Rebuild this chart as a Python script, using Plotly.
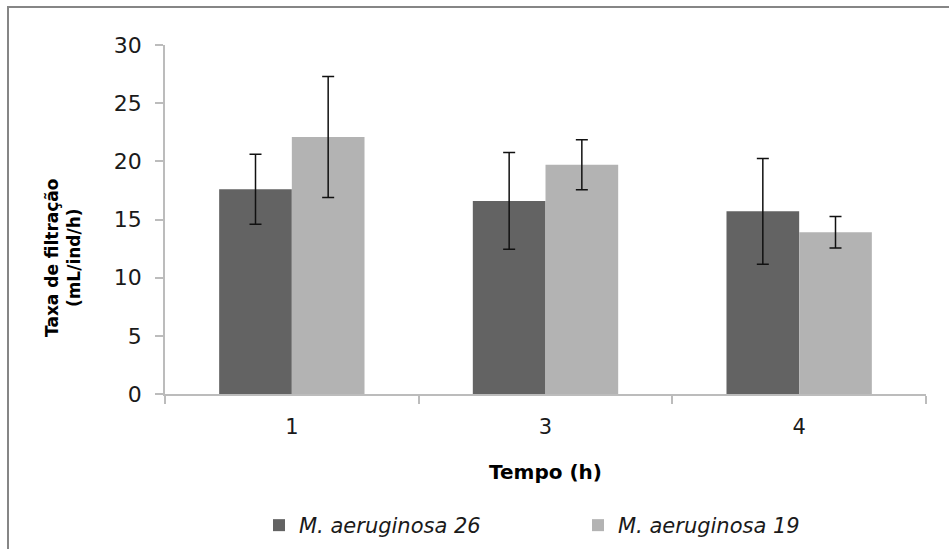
import plotly.graph_objects as go

# Filtration rate by time, two Microcystis strains
tempo = ["1", "3", "4"]
serie_26 = [17.6, 16.6, 15.7]
erro_26 = [3.0, 4.15, 4.55]
serie_19 = [22.1, 19.7, 13.9]
erro_19 = [5.2, 2.15, 1.35]
y_ticks = [0, 5, 10, 15, 20, 25, 30]

W, H = 949, 549
L, R, T, B = 165, 23, 45, 155
FONT = "DejaVu Sans"
AXIS_COLOR = "#bcbcbc"

fig = go.Figure()
fig.add_trace(go.Bar(
    x=tempo, y=serie_26, name="<i>M. aeruginosa 26</i>",
    marker=dict(color="#636363", line=dict(width=0)),
    error_y=dict(type="data", array=erro_26, color="#111111", thickness=1.5, width=6),
))
fig.add_trace(go.Bar(
    x=tempo, y=serie_19, name="<i>M. aeruginosa 19</i>",
    marker=dict(color="#b3b3b3", line=dict(width=0)),
    error_y=dict(type="data", array=erro_19, color="#111111", thickness=1.5, width=6),
))

pw = W - L - R
ph = H - T - B

def px_x(p):
    return (p - L) / pw

def px_y(p):
    return (H - B - p) / ph

fig.update_layout(
    width=W, height=H,
    margin=dict(l=L, r=R, t=T, b=B, autoexpand=False),
    paper_bgcolor="white", plot_bgcolor="white",
    barmode="group", bargap=0.427, bargroupgap=0,
    font=dict(family=FONT, color="#1a1a1a", size=21),
    showlegend=True,
    legend=dict(
        orientation="h", x=px_x(259), y=px_y(505), xanchor="left", yanchor="top",
        font=dict(family=FONT, size=21, color="#1a1a1a"),
        entrywidthmode="pixels", entrywidth=274,
        itemwidth=30, tracegroupgap=0, bgcolor="rgba(0,0,0,0)",
    ),
    xaxis=dict(
        type="category", showline=True, linecolor=AXIS_COLOR, linewidth=1.5,
        ticks="outside", tickson="boundaries", ticklen=8, tickcolor=AXIS_COLOR,
        tickwidth=1.5, ticklabelstandoff=13, showgrid=False, zeroline=False,
        tickfont=dict(family=FONT, size=21, color="#1a1a1a"),
    ),
    yaxis=dict(
        range=[0, 30], tickvals=y_ticks, showline=True, linecolor=AXIS_COLOR,
        linewidth=1.5, ticks="outside", ticklen=8, tickcolor=AXIS_COLOR,
        tickwidth=1.5, ticklabelstandoff=9, showgrid=False, zeroline=False,
        tickfont=dict(family=FONT, size=22, color="#1a1a1a"),
    ),
    shapes=[dict(
        type="rect", xref="paper", yref="paper",
        x0=px_x(8), x1=px_x(W + 20), y0=px_y(H + 20), y1=px_y(7),
        line=dict(color="#868686", width=2), fillcolor="rgba(0,0,0,0)", layer="below",
    )],
    annotations=[
        dict(
            text="<b>Tempo (h)</b>", xref="paper", yref="paper",
            x=px_x(545), y=px_y(472), xanchor="center", yanchor="middle",
            showarrow=False, font=dict(family=FONT, size=20, color="#000000"),
        ),
        dict(
            text="<b>Taxa de filtração<br>(mL/ind/h)</b>", xref="paper", yref="paper",
            x=px_x(63), y=px_y(258), xanchor="center", yanchor="middle",
            textangle=-90, showarrow=False,
            font=dict(family=FONT, size=17, color="#000000"),
        ),
    ],
)

fig.write_html("out.html")
